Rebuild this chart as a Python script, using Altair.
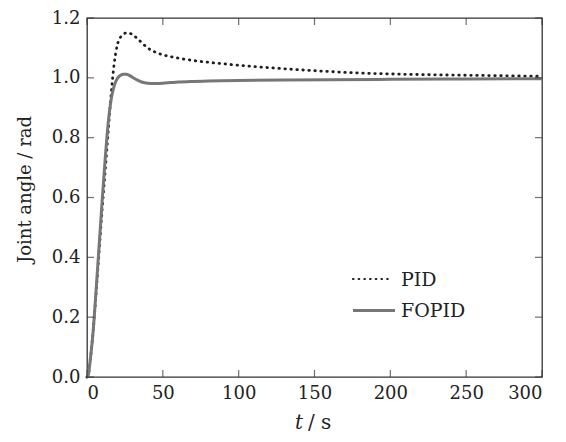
import altair as alt
import pandas as pd

# ---- data ----
pid_t = [0, 1, 2, 4, 6, 8, 10, 12, 14, 16, 18, 20, 22, 24, 26, 28, 30, 33, 36, 40,
         45, 50, 55, 60, 70, 80, 90, 100, 120, 140, 160, 180, 200, 230, 260, 300]
pid_y = [0, 0.01, 0.05, 0.15, 0.28, 0.42, 0.56, 0.69, 0.82, 0.95, 1.05, 1.11, 1.135,
         1.146, 1.150, 1.149, 1.145, 1.132, 1.118, 1.100, 1.086, 1.077, 1.071, 1.066,
         1.058, 1.052, 1.047, 1.042, 1.034, 1.027, 1.021, 1.016, 1.013, 1.010, 1.008, 1.005]

fopid_t = [0, 1, 2, 4, 6, 8, 10, 12, 14, 16, 18, 20, 22, 24, 26, 28, 30, 33, 36, 40,
           45, 50, 55, 60, 70, 80, 100, 130, 160, 200, 250, 300]
fopid_y = [0, 0.01, 0.05, 0.15, 0.29, 0.44, 0.59, 0.73, 0.85, 0.93, 0.975, 0.998,
           1.008, 1.012, 1.012, 1.008, 1.002, 0.993, 0.986, 0.982, 0.981, 0.982, 0.984,
           0.986, 0.988, 0.989, 0.991, 0.993, 0.994, 0.995, 0.996, 0.997]

x_ticks = [0, 50, 100, 150, 200, 250, 300]
y_ticks = [0.0, 0.2, 0.4, 0.6, 0.8, 1.0, 1.2]
legend_labels = ["PID", "FOPID"]

W, H = 455, 359
FONT = "DejaVu Serif"
TXT = "#222222"

pid_df = pd.DataFrame({"t": pid_t, "y": pid_y})
fopid_df = pd.DataFrame({"t": fopid_t, "y": fopid_y})

xs = alt.Scale(domain=[0, 300], nice=False)
ys = alt.Scale(domain=[0, 1.2], nice=False)

xaxis = alt.Axis(values=x_ticks, format="d", ticks=False, tickSize=0, domain=False,
                 grid=False, labelPadding=7, labelFont=FONT, labelFontSize=18,
                 labelColor=TXT, title=None)
yaxis = alt.Axis(values=y_ticks, format=".1f", ticks=False, tickSize=0, domain=False,
                 grid=False, labelPadding=7, labelFont=FONT, labelFontSize=18,
                 labelColor=TXT, title="Joint angle / rad", titleFont=FONT,
                 titleFontSize=18, titleFontWeight="normal", titleColor=TXT,
                 titleX=-62, titleY=171, titleAlign="center", titleBaseline="middle",
                 titleAngle=270)

pid_line = alt.Chart(pid_df).mark_line(
    color="#1e1e1e", strokeWidth=2.8, strokeDash=[0.5, 5.5], strokeCap="round",
    interpolate="monotone"
).encode(x=alt.X("t:Q", scale=xs, axis=xaxis), y=alt.Y("y:Q", scale=ys, axis=yaxis))

fopid_line = alt.Chart(fopid_df).mark_line(
    color="#777777", strokeWidth=3, interpolate="monotone"
).encode(x=alt.X("t:Q", scale=xs), y=alt.Y("y:Q", scale=ys))

# inward ticks on all four sides
xt_df = pd.DataFrame({"t": x_ticks})
yt_df = pd.DataFrame({"y": y_ticks})
tick_color = "#333333"
xt_bottom = alt.Chart(xt_df).mark_tick(color=tick_color, size=7, thickness=1.2).encode(
    x=alt.X("t:Q", scale=xs), y=alt.value(H - 3.5))
xt_top = alt.Chart(xt_df).mark_tick(color=tick_color, size=7, thickness=1.2).encode(
    x=alt.X("t:Q", scale=xs), y=alt.value(3.5))
yt_left = alt.Chart(yt_df).mark_tick(color=tick_color, size=7, thickness=1.2).encode(
    y=alt.Y("y:Q", scale=ys), x=alt.value(3.5))
yt_right = alt.Chart(yt_df).mark_tick(color=tick_color, size=7, thickness=1.2).encode(
    y=alt.Y("y:Q", scale=ys), x=alt.value(W - 3.5))

# x-axis title with italic t
title_t = alt.Chart(pd.DataFrame({"s": ["t"]})).mark_text(
    font=FONT, fontSize=20, fontStyle="italic", color=TXT, align="left", baseline="alphabetic"
).encode(text="s:N", x=alt.value(208), y=alt.value(411))
title_s = alt.Chart(pd.DataFrame({"s": ["/ s"]})).mark_text(
    font=FONT, fontSize=20, color=TXT, align="left", baseline="alphabetic"
).encode(text="s:N", x=alt.value(221), y=alt.value(411))

# legend
leg_pid = alt.Chart(pd.DataFrame({"k": [0]})).mark_rule(
    color="#1e1e1e", strokeWidth=2.2, strokeDash=[0.5, 5.2], strokeCap="round"
).encode(x=alt.value(266), x2=alt.value(305), y=alt.value(261))
leg_fopid = alt.Chart(pd.DataFrame({"k": [0]})).mark_rule(
    color="#777777", strokeWidth=3
).encode(x=alt.value(266), x2=alt.value(308), y=alt.value(292.5))
leg_txt_pid = alt.Chart(pd.DataFrame({"s": [legend_labels[0]]})).mark_text(
    font=FONT, fontSize=19, color=TXT, align="left", baseline="middle"
).encode(text="s:N", x=alt.value(314), y=alt.value(261.5))
leg_txt_fopid = alt.Chart(pd.DataFrame({"s": [legend_labels[1]]})).mark_text(
    font=FONT, fontSize=19, color=TXT, align="left", baseline="middle"
).encode(text="s:N", x=alt.value(314), y=alt.value(293))

chart = alt.layer(
    pid_line, fopid_line, xt_bottom, xt_top, yt_left, yt_right,
    title_t, title_s, leg_pid, leg_fopid, leg_txt_pid, leg_txt_fopid
).properties(
    width=W, height=H,
    autosize=alt.AutoSizeParams(type="none"),
    padding={"left": 79, "top": 10, "right": 16, "bottom": 57},
    background="white",
).configure_view(stroke="#333333", strokeWidth=1.3)

chart.save("out.html", embed_options={"renderer": "svg", "actions": False})
